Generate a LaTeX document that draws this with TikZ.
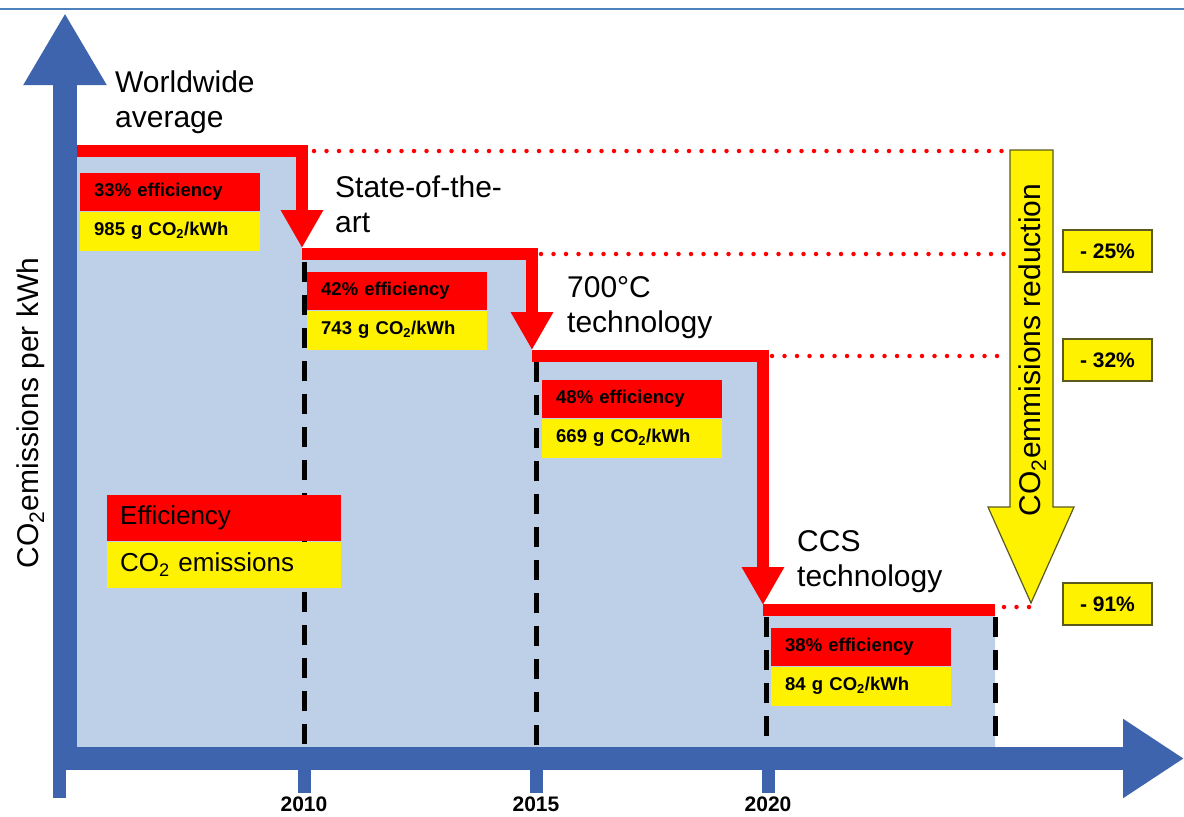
\documentclass[tikz,border=0pt]{standalone}
\usepackage{fontspec}
\setmainfont{Liberation Sans}
\usepackage{tikz}
\usetikzlibrary{arrows.meta,positioning,calc}
\definecolor{axisblue}{RGB}{63,100,174}
\definecolor{lineblue}{RGB}{79,129,189}
\definecolor{areablue}{RGB}{190,208,232}
\definecolor{boxedge}{RGB}{90,90,30}

\tikzset{
  axis/.style={axisblue},
  stepline/.style={red, line width=12pt},
  steparrow/.style={stepline, -{Triangle[length=38pt,width=40pt]}},
  level/.style={red, line width=4.5pt, line cap=round, dash pattern=on 0pt off 12.5pt},
  yearline/.style={black, line width=5pt, dash pattern=on 20pt off 13pt},
  effbox/.style={fill=red, anchor=north west, minimum height=38pt, text width=152pt,
    inner xsep=14pt, inner ysep=0pt, align=left, font=\fontsize{18.5}{20}\selectfont\bfseries},
  co2box/.style={effbox, fill=yellow, minimum height=39pt},
  phase/.style={anchor=north west, align=left, inner sep=0pt, font=\fontsize{30}{35}\selectfont},
  cut/.style={fill=yellow, draw=boxedge, line width=1.5pt, minimum width=89pt,
    minimum height=42pt, inner sep=0pt, font=\fontsize{21}{24}\selectfont\bfseries},
  year/.style={anchor=north, inner sep=0pt, font=\fontsize{21}{24}\selectfont\bfseries}
}

\begin{document}
\begin{tikzpicture}[x=1pt,y=-1pt]
\useasboundingbox (0,0) rectangle (1184,817);
\draw[lineblue, line width=2.5pt] (0,9) -- (1184,9);

\coordinate (s0) at (77,151);
\coordinate (s1) at (302,151);
\coordinate (s2) at (302,254);
\coordinate (s3) at (532,254);
\coordinate (s4) at (532,356);
\coordinate (s5) at (763,356);
\coordinate (s6) at (763,610);
\coordinate (s7) at (995,610);
\coordinate (o) at (77,747);

\fill[areablue] (s0) -- (s1) -- (s2) -- (s3) -- (s4) -- (s5) -- (s6) -- (s7) -- (995,747) -- (o) -- cycle;

\draw[yearline] (304,262) -- (304,747);
\draw[yearline] (536,362) -- (536,747);
\draw[yearline] (766,617) -- (766,747);
\draw[yearline] (995,617) -- (995,747);

\draw[axis, line width=24pt, -{Triangle[length=72pt,width=78pt]}] (65,770) -- (65,13);
\draw[axis, line width=23pt, -{Triangle[length=61pt,width=75pt]}] (53,758.5) -- (1184,758.5);
\draw[axis, line width=13pt] (59,770) -- (59,798);
\foreach \tx in {304,536,768}
  \draw[axis, line width=13pt] (\tx,770) -- (\tx,793);
\node[year] (y2010) at (304,797) {2010};
\node[year] (y2015) at (536,797) {2015};
\node[year] (y2020) at (768,797) {2020};

\draw[steparrow] (s0) -| ($(s2)+(0,-6)$);
\draw[steparrow] (s2) -| ($(s4)+(0,-6)$);
\draw[steparrow] (s4) -| ($(s6)+(0,-5)$);
\draw[stepline] (s6) -- (s7);

\draw[level] (314,151) -- (1008,151);
\draw[level] (541,254) -- (1005,254);
\draw[level] (772,356) -- (1005,356);
\draw[level] (1004,607) -- (1030,607);

\node[effbox] (e1) at (80,173) {33\% efficiency};
\node[co2box, below=0pt of e1] (c1) {985 g CO\textsubscript{2}/kWh};
\node[effbox] (e2) at (307,272) {42\% efficiency};
\node[co2box, below=0pt of e2] (c2) {743 g CO\textsubscript{2}/kWh};
\node[effbox] (e3) at (542,380) {48\% efficiency};
\node[co2box, below=0pt of e3] (c3) {669 g CO\textsubscript{2}/kWh};
\node[effbox] (e4) at (771,628) {38\% efficiency};
\node[co2box, below=0pt of e4] (c4) {84 g CO\textsubscript{2}/kWh};

\node[effbox, text width=208pt, inner xsep=13pt, minimum height=46pt, font=\fontsize{26}{28}\selectfont] (leg1) at (107,495) {Efficiency};
\node[co2box, text width=208pt, inner xsep=13pt, minimum height=46pt, font=\fontsize{26}{28}\selectfont, below=0pt of leg1] (leg2) {CO\textsubscript{2} emissions};

\node[phase] (p1) at (115,71) {Worldwide\\average};
\node[phase] (p2) at (335,176) {State-of-the-\\art};
\node[phase] (p3) at (567,276) {700°C\\technology};
\node[phase] (p4) at (797,530) {CCS\\technology};

\node[rotate=90, anchor=base, font=\fontsize{30}{34}\selectfont] (ylab) at (38,413) {CO\textsubscript{2}emissions per kWh};

\draw[fill=yellow, draw=boxedge, line width=1.2pt] (1010,150) -- (1053,150) -- (1053,507) -- (1074,507) -- (1031,603) -- (988,507) -- (1010,507) -- cycle;
\node[rotate=90, anchor=base, font=\fontsize{30}{34}\selectfont] (red) at (1040,350) {CO\textsubscript{2}emmisions reduction};

\node[cut] (r25) at (1107.5,251) {- 25\%};
\node[cut] (r32) at (1107.5,360) {- 32\%};
\node[cut] (r91) at (1107.5,604) {- 91\%};
\end{tikzpicture}
\end{document}
